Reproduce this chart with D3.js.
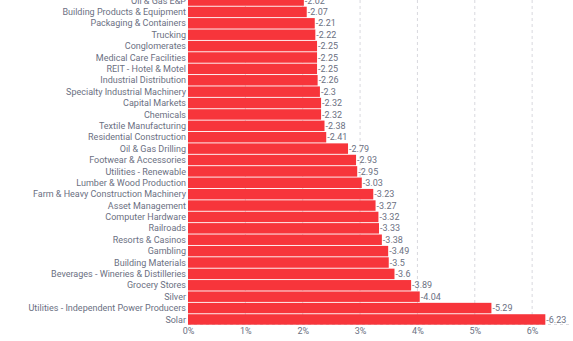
<!DOCTYPE html>
<html><head><meta charset="utf-8">
<script src="https://cdn.jsdelivr.net/npm/d3@7"></script>
<style>body{margin:0;background:#fff;overflow:hidden}text{font-family:Roboto,sans-serif}</style>
</head><body>
<svg id="c" width="573" height="341"></svg>
<script>
const categories = ["Oil & Gas E&P","Building Products & Equipment","Packaging & Containers","Trucking","Conglomerates","Medical Care Facilities","REIT - Hotel & Motel","Industrial Distribution","Specialty Industrial Machinery","Capital Markets","Chemicals","Textile Manufacturing","Residential Construction","Oil & Gas Drilling","Footwear & Accessories","Utilities - Renewable","Lumber & Wood Production","Farm & Heavy Construction Machinery","Asset Management","Computer Hardware","Railroads","Resorts & Casinos","Gambling","Building Materials","Beverages - Wineries & Distilleries","Grocery Stores","Silver","Utilities - Independent Power Producers","Solar"];
const values = [-2.02,-2.07,-2.21,-2.22,-2.25,-2.25,-2.25,-2.26,-2.3,-2.32,-2.32,-2.38,-2.41,-2.79,-2.93,-2.95,-3.03,-3.23,-3.27,-3.32,-3.33,-3.38,-3.49,-3.5,-3.6,-3.89,-4.04,-5.29,-6.23];
const xTicks = [0,1,2,3,4,5,6];

const svg = d3.select("#c");
const x = d3.scaleLinear().domain([0, 6.66]).range([188, 570]);
const y = d3.scaleBand().domain(categories).range([-4.7, 324.7]).paddingInner(0.08);
const axisY = 324.5;

// gridlines
svg.append("g").selectAll("line").data(xTicks.slice(1)).join("line")
  .attr("x1", d => x(d)).attr("x2", d => x(d)).attr("y1", 0).attr("y2", axisY)
  .attr("stroke", "#d9d9de").attr("stroke-dasharray", "3,3");
svg.append("line").attr("x1", x(0)).attr("x2", x.range()[1]).attr("y1", axisY).attr("y2", axisY)
  .attr("stroke", "#d9d9de").attr("stroke-dasharray", "3,3");

// bars
svg.append("g").selectAll("rect").data(categories).join("rect")
  .attr("x", x(0)).attr("y", d => y(d))
  .attr("width", (d, i) => x(Math.abs(values[i])) - x(0))
  .attr("height", y.bandwidth())
  .attr("fill", "#f7353b");

// category labels
svg.append("g").selectAll("text").data(categories).join("text")
  .attr("x", x(0) - 2).attr("y", d => y(d) + y.bandwidth() / 2)
  .attr("dy", "0.35em").attr("text-anchor", "end")
  .attr("font-size", 9).attr("fill", "#6b7082").text(d => d);

// value labels
svg.append("g").selectAll("text").data(categories).join("text")
  .attr("x", (d, i) => x(Math.abs(values[i])) + 1).attr("y", d => y(d) + y.bandwidth() / 2)
  .attr("dy", "0.35em").attr("font-size", 9).attr("fill", "#6b7082")
  .text((d, i) => values[i]);

// x axis labels
const ax = svg.append("g").attr("transform", `translate(0,${axisY})`)
  .call(d3.axisBottom(x).tickValues(xTicks).tickFormat(d => d + "%").tickSize(0).tickPadding(3));
ax.select(".domain").remove();
ax.selectAll("text").attr("font-size", 9).attr("fill", "#6b7082").attr("font-family", "Roboto,sans-serif");
</script>
</body></html>
